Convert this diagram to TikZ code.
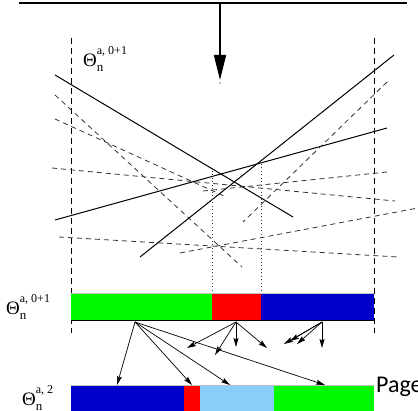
\documentclass[tikz,border=0pt]{standalone}
\usepackage{fontspec}
\setmainfont{Liberation Serif}
\newfontfamily\pagefont{Carlito}
\usetikzlibrary{arrows.meta}
\definecolor{bargreen}{RGB}{0,250,0}
\definecolor{barred}{RGB}{255,0,0}
\definecolor{barblue}{RGB}{0,0,204}
\definecolor{barlight}{RGB}{135,206,250}
\newcommand{\thetasym}[1]{Θ\rlap{\raisebox{12pt}{\fontsize{12}{12}\selectfont #1}}\raisebox{-5pt}{\fontsize{13}{13}\selectfont n}}
\tikzset{
  solidline/.style={line width=1pt},
  dashline/.style={line width=0.8pt, dash pattern=on 5pt off 4pt, black!80},
  boundline/.style={line width=0.8pt, dash pattern=on 6pt off 4pt},
  dotline/.style={line width=0.8pt, dash pattern=on 1pt off 2.5pt, black!80},
  split/.style={line width=0.7pt, -{Stealth[length=9pt,width=5pt,inset=1.5pt]}},
  thlabel/.style={inner sep=0pt, anchor=base west, font=\fontsize{19}{19}\selectfont}
}
\begin{document}
\begin{tikzpicture}[x=1pt,y=-1pt]
\useasboundingbox (0,0) rectangle (418,411);
% incoming stream
\coordinate (topL) at (19,3);
\coordinate (topR) at (407,3);
\coordinate (feed) at (220,3);
\coordinate (feedtip) at (220,80);
\draw[line width=1.3pt] (topL) -- (topR);
\draw[line width=1.3pt, -{Triangle[length=25pt,width=12pt]}] (feed) -- (feedtip);
\fill (220,83) circle (0.6pt);
% window bounds
\draw[boundline] (71,38) -- (71,333);
\draw[boundline] (374,38) -- (374,333);
% tracks
\draw[solidline] (55,75) -- (293,217);
\draw[solidline] (394,55) -- (140,257);
\draw[solidline] (387,128) -- (55,220);
\draw[dashline] (55,95) -- (242,267);
\draw[dashline] (55,119) -- (224,196);
\draw[dashline] (387,82) -- (243,222);
\draw[dashline] (52,168) -- (395,201);
\draw[dashline] (203,191) -- (387,172);
\draw[dashline] (180,253) -- (418,208);
\draw[dashline] (59,237) -- (398,257);
\draw[dotline] (212,171) -- (212,293);
\draw[dotline] (261,164) -- (261,293);
% old partition
\fill[bargreen] (71,293) rectangle (212,321);
\fill[barred] (212,293) rectangle (261,321);
\fill[barblue] (261,293) rectangle (374,321);
\draw[black!25, line width=0.5pt] (71,293) -- (374,293);
\draw[line width=1pt] (71,321) -- (374,321);
% new partition
\fill[barblue] (71,385) rectangle (184,411);
\fill[barred] (184,385) rectangle (200,411);
\fill[barlight] (200,385) rectangle (274,411);
\fill[bargreen] (274,385) rectangle (374,411);
\draw[black!25, line width=0.5pt] (71,385) -- (374,385);
% labels
\node[thlabel] (thTop) at (83,67) {\thetasym{a, 0+1}};
\node[thlabel] (thOld) at (6,315) {\thetasym{a, 0+1}};
\node[thlabel] (thNew) at (22,406) {\thetasym{a, 2}};
\node[anchor=base west, inner sep=0pt, font=\pagefont\fontsize{24}{24}\selectfont] (page) at (376,393) {Page};
% migration
\coordinate (srcG) at (135,322);
\coordinate (srcR) at (236,322);
\coordinate (srcB) at (322,322);
\coordinate (toBlue) at (117,385);
\coordinate (toRed) at (192,385);
\coordinate (toLight) at (230,385);
\coordinate (toGreen) at (325,385);
\coordinate (rA) at (187,348);
\coordinate (rB) at (215,355);
\coordinate (rC) at (236,347);
\coordinate (rD) at (267,348);
\coordinate (bA) at (284,344);
\coordinate (bB) at (290,341);
\coordinate (bC) at (297,344);
\coordinate (bD) at (322,348);
\draw[split] (srcG) -- (toBlue);
\draw[split] (srcG) -- (toRed);
\draw[split] (srcG) -- (toLight);
\draw[split] (srcG) -- (toGreen);
\draw[split] (srcR) -- (rA);
\draw[split] (srcR) -- (rB);
\draw[split] (srcR) -- (rC);
\draw[split] (srcR) -- (rD);
\draw[split] (srcB) -- (bA);
\draw[split] (srcB) -- (bB);
\draw[split] (srcB) -- (bC);
\draw[split] (srcB) -- (bD);
\end{tikzpicture}
\end{document}
